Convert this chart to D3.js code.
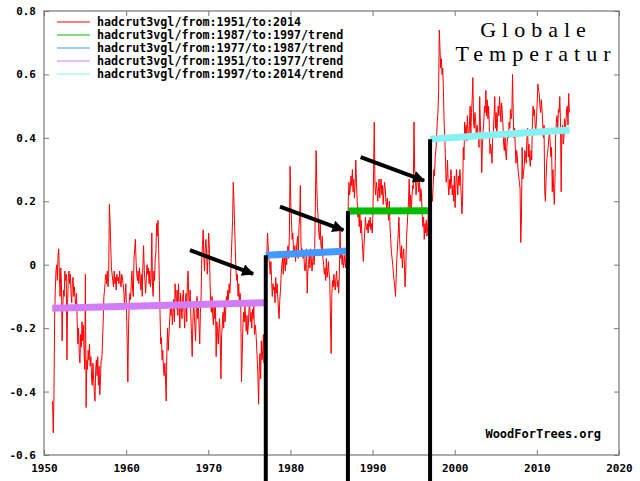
<!DOCTYPE html>
<html>
<head>
<meta charset="utf-8">
<script src="https://cdn.jsdelivr.net/npm/d3@7"></script>
<style>
  body { margin: 0; background: #fff; }
  svg { display: block; }
</style>
</head>
<body>
<svg id="chart" width="640" height="481"></svg>
<script>
// monthly series, Jan 1951 .. Dec 2013 (12 values per row)
var startYear = 1951
var temps = [
 -0.43,-0.53,-0.42,-0.17,-0.08,-0.02,0.00,-0.05,0.03,0.05,-0.04,-0.10,
 -0.01,-0.06,-0.24,-0.13,-0.08,-0.10,-0.02,-0.05,-0.03,-0.30,-0.12,-0.04,
 -0.02,-0.06,-0.03,-0.09,-0.12,-0.05,-0.04,-0.10,-0.07,-0.11,-0.14,-0.09,
 -0.18,-0.25,-0.20,-0.28,-0.31,-0.22,-0.26,-0.18,-0.24,-0.19,-0.27,-0.33,
 -0.03,-0.45,-0.30,-0.33,-0.27,-0.30,-0.25,-0.32,-0.29,-0.36,-0.38,-0.31,
 -0.36,-0.40,-0.43,-0.33,-0.30,-0.35,-0.29,-0.38,-0.32,-0.41,-0.36,-0.30,
 -0.30,-0.24,-0.18,-0.10,-0.08,-0.05,-0.03,-0.06,-0.02,-0.07,-0.04,0.19,
 0.14,0.06,-0.01,-0.03,-0.05,-0.07,-0.02,-0.06,-0.04,-0.08,-0.03,-0.05,
 -0.04,-0.06,-0.02,-0.05,-0.07,-0.03,-0.04,-0.06,-0.08,-0.12,-0.10,-0.06,
 -0.14,-0.24,-0.37,-0.20,-0.12,-0.09,-0.11,-0.06,-0.02,-0.08,-0.10,0.02,
 0.05,0.08,0.01,-0.03,-0.05,-0.02,-0.06,-0.01,-0.04,-0.08,-0.03,-0.10,
 0.00,0.06,-0.02,-0.05,-0.09,-0.04,0.00,-0.03,-0.01,-0.06,-0.02,-0.07,
 -0.04,0.10,-0.07,-0.10,-0.02,-0.05,0.02,0.04,0.13,0.09,0.14,0.05,
 -0.05,-0.15,-0.25,-0.23,-0.30,-0.27,-0.33,-0.35,-0.31,-0.36,-0.43,-0.28,
 -0.20,-0.27,-0.22,-0.18,-0.14,-0.16,-0.12,-0.19,-0.15,-0.11,-0.18,-0.06,
 -0.10,-0.14,-0.08,-0.16,-0.06,-0.12,-0.20,-0.09,-0.13,-0.17,-0.11,-0.08,
 -0.15,-0.20,-0.12,-0.09,-0.18,-0.05,-0.02,-0.10,-0.13,-0.08,-0.16,-0.22,
 -0.29,-0.18,-0.12,-0.15,-0.20,-0.24,-0.14,-0.10,-0.17,-0.12,-0.19,-0.25,
 -0.15,-0.10,0.02,0.06,0.11,0.03,-0.02,0.05,0.08,0.04,-0.03,0.02,
 0.10,0.06,-0.05,-0.12,-0.15,-0.10,-0.16,-0.19,-0.13,-0.17,-0.12,-0.29,
 -0.18,-0.21,-0.25,-0.20,-0.17,-0.24,-0.36,-0.22,-0.19,-0.15,-0.20,-0.12,
 -0.18,-0.14,-0.10,-0.12,-0.08,-0.11,-0.06,-0.09,-0.04,0.02,0.08,0.14,
 0.26,0.20,0.12,0.05,-0.02,-0.05,-0.03,-0.10,-0.06,-0.12,-0.09,-0.14,
 -0.37,-0.29,-0.20,-0.15,-0.18,-0.13,-0.17,-0.21,-0.16,-0.22,-0.19,-0.14,
 -0.12,-0.18,-0.15,-0.20,-0.14,-0.17,-0.13,-0.22,-0.19,-0.21,-0.25,-0.30,
 -0.35,-0.44,-0.32,-0.28,-0.36,-0.24,-0.30,-0.27,-0.22,-0.31,-0.20,-0.13,
 -0.05,0.03,0.10,0.06,0.02,0.00,-0.03,0.01,-0.05,-0.10,-0.06,-0.08,
 -0.07,-0.12,-0.04,-0.09,-0.06,-0.10,-0.14,-0.17,-0.11,-0.08,-0.03,0.00,
 0.02,-0.03,0.04,0.01,-0.02,0.03,0.00,0.04,0.06,0.02,0.10,0.31,
 0.20,0.14,0.08,0.10,0.05,0.03,0.06,0.01,0.04,0.07,0.09,0.02,
 0.12,0.15,0.25,0.06,0.03,0.05,0.02,0.04,-0.01,-0.02,0.01,0.05,
 -0.09,-0.02,0.00,0.03,-0.01,0.05,0.02,-0.02,0.01,0.04,0.00,0.05,
 0.20,0.36,0.25,0.18,0.15,0.10,0.08,0.13,0.06,0.05,0.09,0.02,
 0.00,-0.03,-0.01,-0.05,0.02,-0.04,-0.02,0.01,-0.03,-0.05,-0.18,-0.28,
 -0.09,-0.05,-0.07,-0.03,-0.06,-0.08,-0.04,-0.02,-0.07,-0.05,-0.09,-0.03,
 0.12,0.02,0.04,0.00,0.03,-0.01,0.01,0.03,-0.01,0.02,-0.02,0.04,
 0.20,0.26,0.22,0.24,0.28,0.25,0.30,0.23,0.27,0.21,0.25,0.33,
 0.26,0.20,0.15,0.18,0.12,0.16,0.10,0.14,0.09,0.05,0.01,0.06,
 0.10,0.15,0.12,0.11,0.13,0.10,0.14,0.12,0.15,0.11,0.13,0.10,
 0.16,0.30,0.45,0.25,0.22,0.26,0.24,0.20,0.23,0.27,0.21,0.25,
 0.27,0.22,0.25,0.19,0.23,0.26,0.24,0.20,0.18,0.21,0.17,0.14,
 0.20,0.12,0.08,0.04,0.02,0.00,-0.03,-0.05,-0.07,-0.10,-0.04,0.02,
 0.06,0.10,0.15,0.08,0.04,0.02,0.06,-0.01,0.03,0.05,0.00,-0.07,
 -0.02,0.08,0.12,0.16,0.20,0.27,0.18,0.22,0.16,0.21,0.25,0.24,
 0.45,0.30,0.28,0.22,0.25,0.29,0.26,0.23,0.27,0.20,0.24,0.22,
 0.16,0.12,0.15,0.08,0.13,0.10,0.14,0.09,0.12,0.16,0.11,0.15,
 0.14,0.18,0.22,0.20,0.25,0.30,0.28,0.34,0.36,0.40,0.45,0.48,
 0.55,0.74,0.68,0.62,0.65,0.60,0.62,0.55,0.45,0.40,0.33,0.26,
 0.28,0.33,0.25,0.22,0.27,0.24,0.30,0.26,0.22,0.25,0.20,0.28,
 0.18,0.24,0.30,0.26,0.22,0.28,0.25,0.30,0.27,0.22,0.16,0.20,
 0.37,0.33,0.45,0.41,0.44,0.39,0.47,0.42,0.40,0.44,0.50,0.41,
 0.48,0.52,0.59,0.45,0.43,0.48,0.46,0.40,0.44,0.42,0.41,0.37,
 0.53,0.44,0.40,0.29,0.38,0.42,0.45,0.50,0.48,0.55,0.47,0.52,
 0.46,0.50,0.44,0.35,0.38,0.36,0.32,0.40,0.42,0.47,0.53,0.43,
 0.48,0.40,0.46,0.50,0.47,0.53,0.49,0.45,0.51,0.48,0.44,0.38,
 0.36,0.41,0.35,0.33,0.38,0.42,0.40,0.45,0.43,0.49,0.46,0.48,
 0.60,0.47,0.40,0.43,0.37,0.32,0.36,0.34,0.30,0.28,0.26,0.24,
 0.07,0.15,0.37,0.27,0.29,0.31,0.36,0.34,0.32,0.40,0.43,0.34,
 0.38,0.33,0.31,0.36,0.33,0.45,0.50,0.47,0.49,0.44,0.42,0.46,
 0.51,0.57,0.55,0.54,0.50,0.48,0.52,0.49,0.45,0.40,0.44,0.23,
 0.20,0.27,0.33,0.35,0.37,0.40,0.42,0.38,0.34,0.37,0.23,0.30,
 0.24,0.19,0.27,0.41,0.45,0.47,0.43,0.49,0.48,0.53,0.45,0.23,
 0.42,0.44,0.38,0.40,0.46,0.42,0.45,0.49,0.50,0.44,0.54,0.48
]

// trends (legend order)
var legendLabels = ["hadcrut3vgl/from:1951/to:2014", "hadcrut3vgl/from:1987/to:1997/trend",
  "hadcrut3vgl/from:1977/to:1987/trend", "hadcrut3vgl/from:1951/to:1977/trend",
  "hadcrut3vgl/from:1997/to:2014/trend"]
var legendColors = ["#ff0000", "#00bb00", "#4499ff", "#d37cf7", "#88f0f0"]
var trendFrom = [1987, 1977, 1951, 1997]
var trendTo = [1997, 1987, 1977, 2014]
var trendStart = [0.169, 0.030, -0.137, 0.396]
var trendEnd = [0.170, 0.043, -0.120, 0.425]
var trendColors = ["#00bb00", "#4499ff", "#d37cf7", "#88f0f0"]

// step lines and arrows
var stepYears = [1977, 1987, 1997]
var stepValues = [0.030, 0.169, 0.396]
var arrowX1 = [1967.77, 1978.73, 1988.55]
var arrowY1 = [0.046, 0.183, 0.339]
var arrowX2 = [1975.45, 1986.44, 1996.26]
var arrowY2 = [-0.029, 0.109, 0.265]

var xTicks = [1950, 1960, 1970, 1980, 1990, 2000, 2010, 2020]
var yTicks = [-0.6, -0.4, -0.2, 0, 0.2, 0.4, 0.6, 0.8]

var W = 640, H = 481
var mLeft = 44, mRight = 619, mTop = 11, mBottom = 455

var svg = d3.select('#chart')
svg.append('rect').attr('width', W).attr('height', H).attr('fill', '#fff')

var x = d3.scaleLinear().domain([1950, 2020]).range([mLeft, mRight])
var y = d3.scaleLinear().domain([-0.6, 0.8]).range([mBottom, mTop])

var fmt = function(d){ return d === 0 ? "0" : d.toFixed(1) }

function styleAxis(g){
  g.select('.domain').remove()
  g.selectAll('line').attr('stroke', '#777')
  g.selectAll('text').attr('font-family', 'DejaVu Sans Mono').attr('font-weight', 'bold')
    .attr('font-size', 11).attr('fill', '#000')
}

svg.append('g').attr('transform', 'translate(0,' + mBottom + ')')
  .call(d3.axisBottom(x).tickValues(xTicks).tickFormat(d3.format('d')).tickSize(-5).tickSizeOuter(0).tickPadding(9))
  .call(styleAxis)
svg.append('g').attr('transform', 'translate(0,' + mTop + ')')
  .call(d3.axisTop(x).tickValues(xTicks).tickFormat('').tickSize(-5).tickSizeOuter(0))
  .call(styleAxis)
svg.append('g').attr('transform', 'translate(' + mLeft + ',0)')
  .call(d3.axisLeft(y).tickValues(yTicks).tickFormat(fmt).tickSize(-5).tickSizeOuter(0).tickPadding(8))
  .call(styleAxis)
svg.append('g').attr('transform', 'translate(' + mRight + ',0)')
  .call(d3.axisRight(y).tickValues(yTicks).tickFormat('').tickSize(-5).tickSizeOuter(0))
  .call(styleAxis)

svg.append('rect').attr('x', mLeft).attr('y', mTop).attr('width', mRight - mLeft).attr('height', mBottom - mTop)
  .attr('fill', 'none').attr('stroke', '#777').attr('stroke-width', 1.2)

// series
var line = d3.line()
  .x(function(d, i){ return x(startYear + i / 12 + 1 / 24) })
  .y(function(d){ return y(d) })
svg.append('path').datum(temps).attr('d', line)
  .attr('fill', 'none').attr('stroke', '#ff0000').attr('stroke-width', 1)

// trend lines
svg.selectAll('.trend').data(trendFrom).enter().append('line')
  .attr('class', 'trend')
  .attr('x1', function(d){ return x(d) })
  .attr('x2', function(d, i){ return x(trendTo[i]) })
  .attr('y1', function(d, i){ return y(trendStart[i]) })
  .attr('y2', function(d, i){ return y(trendEnd[i]) })
  .attr('stroke', function(d, i){ return trendColors[i] })
  .attr('stroke-width', 7)

// black steps
svg.selectAll('.step').data(stepYears).enter().append('line')
  .attr('class', 'step')
  .attr('x1', function(d){ return x(d) }).attr('x2', function(d){ return x(d) })
  .attr('y1', function(d, i){ return y(stepValues[i]) }).attr('y2', H)
  .attr('stroke', '#000').attr('stroke-width', 4)

// arrows
svg.append('defs').append('marker').attr('id', 'head')
  .attr('viewBox', '0 0 10 10').attr('refX', 9).attr('refY', 5)
  .attr('markerWidth', 4).attr('markerHeight', 3).attr('orient', 'auto')
  .attr('markerUnits', 'strokeWidth')
  .append('path').attr('d', 'M0,0L10,5L0,10z').attr('fill', '#000')
svg.selectAll('.arrow').data(arrowX1).enter().append('line')
  .attr('class', 'arrow')
  .attr('x1', function(d){ return x(d) })
  .attr('y1', function(d, i){ return y(arrowY1[i]) })
  .attr('x2', function(d, i){ return x(arrowX2[i]) })
  .attr('y2', function(d, i){ return y(arrowY2[i]) })
  .attr('stroke', '#000').attr('stroke-width', 4).attr('marker-end', 'url(#head)')

// legend
var leg = svg.append('g')
leg.selectAll('line').data(legendLabels).enter().append('line')
  .attr('x1', 57).attr('x2', 90)
  .attr('y1', function(d, i){ return 22 + i * 13 }).attr('y2', function(d, i){ return 22 + i * 13 })
  .attr('stroke', function(d, i){ return legendColors[i] }).attr('stroke-width', 1.2)
leg.selectAll('text').data(legendLabels).enter().append('text')
  .attr('x', 97).attr('y', function(d, i){ return 26 + i * 13 })
  .attr('font-family', 'DejaVu Sans Mono').attr('font-weight', 'bold').attr('font-size', 11.7)
  .text(function(d){ return d })

// title
svg.append('text').attr('x', 536).attr('y', 37).attr('text-anchor', 'middle')
  .attr('font-family', 'Liberation Serif').attr('font-size', 22).attr('letter-spacing', 6)
  .text('Globale')
svg.append('text').attr('x', 536).attr('y', 61).attr('text-anchor', 'middle')
  .attr('font-family', 'Liberation Serif').attr('font-size', 22).attr('letter-spacing', 6)
  .text('Temperatur')

svg.append('text').attr('x', 601).attr('y', 438).attr('text-anchor', 'end')
  .attr('font-family', 'DejaVu Sans Mono').attr('font-weight', 'bold').attr('font-size', 12)
  .text('WoodForTrees.org')
</script>
</body>
</html>
